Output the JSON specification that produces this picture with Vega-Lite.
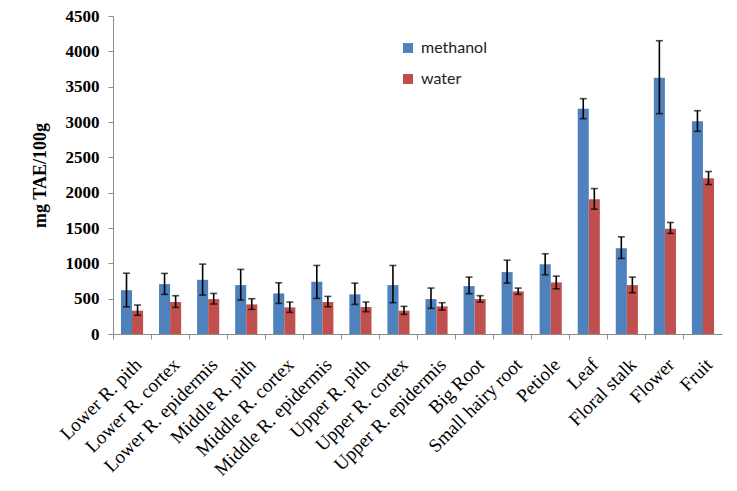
{
  "$schema": "https://vega.github.io/schema/vega-lite/v6.json",
  "width": 609,
  "height": 318,
  "autosize": {"type": "none"},
  "padding": {"left": 113, "top": 16, "right": 15, "bottom": 157},
  "background": "white",
  "config": {
    "view": {"stroke": null},
    "axisY": {
      "labelOverlap": false,
      "titleFont": "Liberation Serif",
      "titleFontSize": 18,
      "titleFontWeight": "bold",
      "titleColor": "black",
      "titlePadding": 16,
      "labelFont": "Liberation Serif",
      "labelFontSize": 17,
      "labelFontWeight": "bold",
      "labelColor": "black",
      "labelPadding": 9,
      "domainColor": "#8c8c8c",
      "tickColor": "#8c8c8c",
      "tickSize": 5,
      "grid": false
    }
  },
  "data": {"values": [
    {"part": "Lower R. pith", "solvent": "methanol", "value": 620, "lo": 385, "hi": 860},
    {"part": "Lower R. pith", "solvent": "water", "value": 330, "lo": 265, "hi": 410},
    {"part": "Lower R. cortex", "solvent": "methanol", "value": 706, "lo": 561, "hi": 857},
    {"part": "Lower R. cortex", "solvent": "water", "value": 452, "lo": 377, "hi": 542},
    {"part": "Lower R. epidermis", "solvent": "methanol", "value": 767, "lo": 551, "hi": 989},
    {"part": "Lower R. epidermis", "solvent": "water", "value": 494, "lo": 424, "hi": 574},
    {"part": "Middle R. pith", "solvent": "methanol", "value": 692, "lo": 480, "hi": 914},
    {"part": "Middle R. pith", "solvent": "water", "value": 419, "lo": 348, "hi": 499},
    {"part": "Middle R. cortex", "solvent": "methanol", "value": 574, "lo": 433, "hi": 725},
    {"part": "Middle R. cortex", "solvent": "water", "value": 377, "lo": 306, "hi": 452},
    {"part": "Middle R. epidermis", "solvent": "methanol", "value": 739, "lo": 504, "hi": 970},
    {"part": "Middle R. epidermis", "solvent": "water", "value": 452, "lo": 386, "hi": 532},
    {"part": "Upper R. pith", "solvent": "methanol", "value": 561, "lo": 419, "hi": 720},
    {"part": "Upper R. pith", "solvent": "water", "value": 381, "lo": 316, "hi": 452},
    {"part": "Upper R. cortex", "solvent": "methanol", "value": 692, "lo": 443, "hi": 970},
    {"part": "Upper R. cortex", "solvent": "water", "value": 330, "lo": 278, "hi": 391},
    {"part": "Upper R. epidermis", "solvent": "methanol", "value": 494, "lo": 363, "hi": 650},
    {"part": "Upper R. epidermis", "solvent": "water", "value": 391, "lo": 339, "hi": 443},
    {"part": "Big Root", "solvent": "methanol", "value": 678, "lo": 570, "hi": 805},
    {"part": "Big Root", "solvent": "water", "value": 494, "lo": 452, "hi": 542},
    {"part": "Small hairy root", "solvent": "methanol", "value": 876, "lo": 720, "hi": 1045},
    {"part": "Small hairy root", "solvent": "water", "value": 603, "lo": 561, "hi": 650},
    {"part": "Petiole", "solvent": "methanol", "value": 987, "lo": 838, "hi": 1135},
    {"part": "Petiole", "solvent": "water", "value": 730, "lo": 640, "hi": 819},
    {"part": "Leaf", "solvent": "methanol", "value": 3189, "lo": 3047, "hi": 3330},
    {"part": "Leaf", "solvent": "water", "value": 1907, "lo": 1766, "hi": 2058},
    {"part": "Floral stalk", "solvent": "methanol", "value": 1215, "lo": 1069, "hi": 1375},
    {"part": "Floral stalk", "solvent": "water", "value": 692, "lo": 584, "hi": 805},
    {"part": "Flower", "solvent": "methanol", "value": 3627, "lo": 3118, "hi": 4150},
    {"part": "Flower", "solvent": "water", "value": 1488, "lo": 1423, "hi": 1578},
    {"part": "Fruit", "solvent": "methanol", "value": 3009, "lo": 2868, "hi": 3160},
    {"part": "Fruit", "solvent": "water", "value": 2204, "lo": 2115, "hi": 2299}
  ]},
  "encoding": {
    "x": {
      "field": "part", "type": "nominal", "sort": null,
      "scale": {"paddingInner": 0, "paddingOuter": 0},
      "axis": {
        "title": null,
        "bandPosition": 0,
        "labelAngle": -45,
        "labelAlign": "right",
        "labelBaseline": "top",
        "labelFont": "Liberation Serif",
        "labelFontSize": 19,
        "labelColor": "black",
        "labelPadding": 16,
        "labelOverlap": false,
        "domainColor": "#8c8c8c",
        "tickColor": "#8c8c8c",
        "tickSize": 5,
        "grid": false
      }
    },
    "xOffset": {
      "field": "solvent", "type": "nominal",
      "scale": {"paddingInner": 0, "paddingOuter": 0.72}
    }
  },
  "layer": [
    {
      "mark": {"type": "bar"},
      "encoding": {
        "y": {
          "field": "value", "type": "quantitative",
          "scale": {"domain": [0, 4500], "nice": false},
          "axis": {"title": "mg TAE/100g", "values": [0, 500, 1000, 1500, 2000, 2500, 3000, 3500, 4000, 4500], "format": "d", "labelOverlap": false}
        },
        "color": {
          "field": "solvent", "type": "nominal",
          "scale": {"domain": ["methanol", "water"], "range": ["#4F81BD", "#C0504D"]},
          "legend": {
            "title": null,
            "orient": "none",
            "legendX": 287,
            "legendY": 24,
            "symbolType": "square",
            "symbolSize": 100,
            "symbolStrokeWidth": 0,
            "labelFont": "Lato",
            "labelFontSize": 16,
            "labelColor": "#222222",
            "labelOffset": 5,
            "rowPadding": 15
          }
        }
      }
    },
    {
      "mark": {"type": "rule", "color": "black", "strokeWidth": 1.6},
      "encoding": {
        "y": {"field": "lo", "type": "quantitative", "axis": {"title": "mg TAE/100g", "values": [0, 500, 1000, 1500, 2000, 2500, 3000, 3500, 4000, 4500], "format": "d", "labelOverlap": false}},
        "y2": {"field": "hi"}
      }
    },
    {
      "mark": {"type": "tick", "color": "black", "thickness": 1.6, "size": 7, "orient": "horizontal"},
      "encoding": {
        "y": {"field": "lo", "type": "quantitative", "axis": {"title": "mg TAE/100g", "values": [0, 500, 1000, 1500, 2000, 2500, 3000, 3500, 4000, 4500], "format": "d", "labelOverlap": false}}
      }
    },
    {
      "mark": {"type": "tick", "color": "black", "thickness": 1.6, "size": 7, "orient": "horizontal"},
      "encoding": {
        "y": {"field": "hi", "type": "quantitative", "axis": {"title": "mg TAE/100g", "values": [0, 500, 1000, 1500, 2000, 2500, 3000, 3500, 4000, 4500], "format": "d", "labelOverlap": false}}
      }
    }
  ]
}
